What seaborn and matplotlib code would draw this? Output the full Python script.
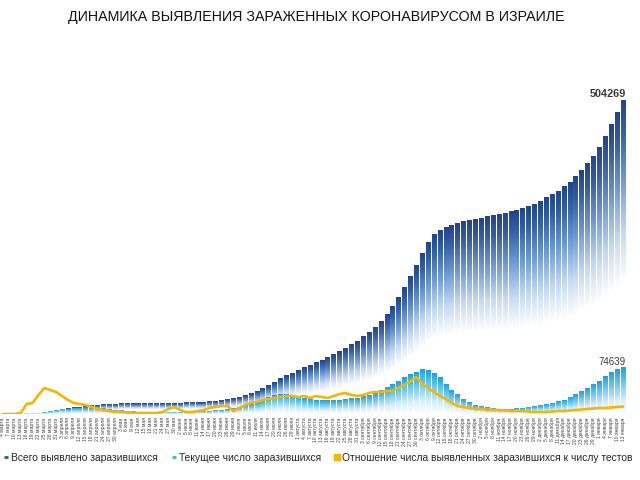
import numpy as np
import pandas as pd
import matplotlib
matplotlib.use("Agg")
import matplotlib.pyplot as plt
import seaborn as sns
from matplotlib.colors import LinearSegmentedColormap
from matplotlib.lines import Line2D

# ---------------- data (every 3 days, 4 Mar 2020 - 13 Jan 2021) ----------------
dates = pd.date_range("2020-03-04", "2021-01-13", freq="3D")
months_gen = ["января", "февраля", "марта", "апреля", "мая", "июня", "июля",
              "августа", "сентября", "октября", "ноября", "декабря"]
tick_labels = [f"{d.day} {months_gen[d.month - 1]}" for d in dates]

total_cases = [
    15, 21, 58, 126, 250, 677, 1071, 2369, 3460, 5358,
    6857, 8611, 9968, 11145, 12200, 13107, 13942, 14803, 15443, 15946,
    16208, 16346, 16477, 16539, 16607, 16650, 16712, 16757, 16872, 17071,
    17377, 17863, 18269, 18759, 19237, 19783, 20633, 21512, 22800, 24688,
    26932, 29958, 32714, 36655, 41235, 46059, 50898, 56748, 61389, 65540,
    70036, 74430, 78462, 82324, 86585, 90928, 95513, 100716, 106051, 111695, 117346,
    124455, 131387, 138618, 149000, 160368, 173000, 187000, 203000, 222000, 239000,
    259000, 276000, 289000, 296000, 301000, 304000, 307000, 309500, 311500, 313500,
    315500, 317500, 319500, 321500, 323500, 325500, 328000, 331000, 334500, 338000,
    343000, 348000, 353500, 359000, 366000, 373000, 382000, 392000, 403000, 415000,
    430000, 447000, 466000, 486000, 504269,
]

active_cases = [
    15, 21, 55, 120, 240, 660, 1030, 2300, 3370, 5140,
    6500, 8000, 9000, 9500, 9500, 9300, 8900, 8200, 7100, 6200,
    5000, 4200, 3500, 2900, 2500, 2200, 2000, 1900, 1900, 2000,
    2200, 2600, 3000, 3500, 3900, 4300, 4900, 5600, 6700, 8400,
    10500, 13000, 15500, 19000, 22500, 26000, 29000, 32000, 31000, 30000,
    27500, 25000, 23000, 22000, 21500, 21500, 21800, 22500, 23500, 24500, 25500,
    27500, 30000, 33000, 38000, 43000, 48000, 53000, 58000, 63000, 67000,
    71000, 70000, 65000, 58000, 48000, 38000, 31000, 24000, 18000, 14000,
    12000, 10000, 8800, 8000, 7600, 7800, 8300, 9000, 10200, 12000,
    13500, 15000, 17000, 19500, 22500, 26500, 31000, 36000, 41000, 47500,
    53000, 60000, 67000, 71000, 74639,
]

positive_ratio = [
    0, 0, 0, 0.4, 4.0, 4.4, 7.6, 10.4, 9.6, 8.8,
    7.2, 5.6, 4.4, 4.0, 3.6, 2.8, 2.0, 1.6, 1.2, 0.8,
    0.8, 0.6, 0.4, 0.4, 0.4, 0.4, 0.4, 0.8, 2.0, 2.8,
    1.6, 0.8, 0.8, 1.2, 1.6, 2.4, 2.8, 3.2, 3.2, 1.2,
    2.4, 3.6, 4.4, 4.8, 5.6, 6.0, 6.4, 6.8, 7.2, 7.2,
    6.8, 7.2, 6.4, 7.2, 6.8, 6.4, 7.2, 8.0, 8.4, 7.6,
    7.2, 7.6, 8.4, 8.8, 8.8, 9.2, 9.2, 10.4, 11.6, 13.2,
    14.8, 12.0, 10.4, 8.8, 7.2, 6.0, 4.4, 3.2, 2.8, 2.4,
    2.0, 2.0, 1.6, 1.6, 1.6, 1.4, 1.2, 1.2, 1.2, 1.0,
    0.8, 0.8, 0.8, 1.0, 1.2, 1.2, 1.4, 1.6, 1.8, 2.0,
    2.2, 2.4, 2.4, 2.6, 2.8, 3.0,
]

title = "ДИНАМИКА ВЫЯВЛЕНИЯ ЗАРАЖЕННЫХ КОРОНАВИРУСОМ В ИЗРАИЛЕ"
legend_labels = ["Всего выявлено заразившихся", "Текущее число заразившихся",
                 "Отношение числа выявленных заразившихся к числу тестов"]

df = pd.DataFrame({"date": tick_labels, "total": total_cases,
                   "active": active_cases, "ratio": positive_ratio})
n = len(df)

# ---------------- style ----------------
sns.set_style("white")
plt.rcParams["font.family"] = ["Liberation Sans", "DejaVu Sans"]

fig = plt.figure(figsize=(6.4, 4.8), dpi=100, facecolor="white")
ax = fig.add_axes([0.0, 66 / 480, 626 / 640, 354 / 480])

sns.barplot(data=df, x="date", y="total", color="#2a57a5", width=0.78,
            ax=ax, saturation=1)
sns.barplot(data=df, x="date", y="active", color="#2aa9e2", width=0.78,
            ax=ax, saturation=1)

cmap_total = LinearSegmentedColormap.from_list(
    "tot", [(0.0, "#21448c"), (0.1, "#345fa8"), (0.25, "#6d98d4"),
            (0.42, "#c4d9f2"), (0.58, "#ffffff"), (1.0, "#ffffff")])
cmap_active = LinearSegmentedColormap.from_list(
    "act", [(0.0, "#1aa2df"), (0.3, "#62c4ee"), (0.7, "#d6eefb"), (1.0, "#ffffff")])

grad = np.linspace(0, 1, 256).reshape(-1, 1)


def gradient_fill(container, cmap, z):
    for p in container.patches:
        x, y = p.get_x(), p.get_y()
        w, h = p.get_width(), p.get_height()
        if h <= 0:
            continue
        ax.imshow(grad, cmap=cmap, vmin=0, vmax=1, extent=[x, x + w, y, y + h],
                  origin="upper", aspect="auto", zorder=z, interpolation="bilinear")
        p.set_facecolor("none")
        p.set_edgecolor("none")


gradient_fill(ax.containers[0], cmap_total, 1)
gradient_fill(ax.containers[1], cmap_active, 2)

ymax = 354 * 1611
ax.set_xlim(-0.5, n - 0.5)
ax.set_ylim(0, ymax)
ax.set_xlabel("")
ax.set_ylabel("")
ax.set_yticks([])
ax.set_xticks(range(n))
ax.set_xticklabels(tick_labels, rotation=90, fontsize=3.6, color="#444444")
ax.tick_params(axis="x", length=1.5, width=0.6, color="#999999", pad=1)
for s in ax.spines.values():
    s.set_visible(False)

# value labels
ax.text(n - 3.5, total_cases[-1] + 2 * 1611, f"{total_cases[-1]}", ha="center",
        va="bottom", fontsize=7.8, fontweight="bold", color="#3a3a3a", zorder=5)
ax.text(n - 2.8, active_cases[-1] + 1 * 1611, f"{active_cases[-1]}", ha="center",
        va="bottom", fontsize=7, color="#3a3a3a", zorder=5)

# ratio line on twin axis
ax2 = ax.twinx()
sns.lineplot(x=np.arange(n), y=df["ratio"], ax=ax2, color="#f7b500", linewidth=1.9)
ax2.set_ylim(0, 354 * 0.4)
ax2.set_xlim(-0.5, n - 0.5)
ax2.set_yticks([])
ax2.set_ylabel("")
for s in ax2.spines.values():
    s.set_visible(False)

fig.text(0.494, 1 - 17 / 480, title, ha="center", va="center", fontsize=10.3,
         color="#111111")

handles = [
    Line2D([], [], linestyle="none", marker="_", markersize=3.5, mew=2.0, color="#2a57a5"),
    Line2D([], [], linestyle="none", marker="_", markersize=3.5, mew=2.0, color="#38b3ea"),
    Line2D([], [], linestyle="none", marker="s", markersize=4.2, color="#f7b500"),
]
fig.legend(handles, legend_labels, loc="center", bbox_to_anchor=(0.497, 1 - 458 / 480),
           ncol=3, frameon=False, fontsize=7.35, handlelength=0.5, handletextpad=0.25,
           columnspacing=1.3, borderaxespad=0)

fig.savefig("out.png", dpi=100, facecolor="white")
